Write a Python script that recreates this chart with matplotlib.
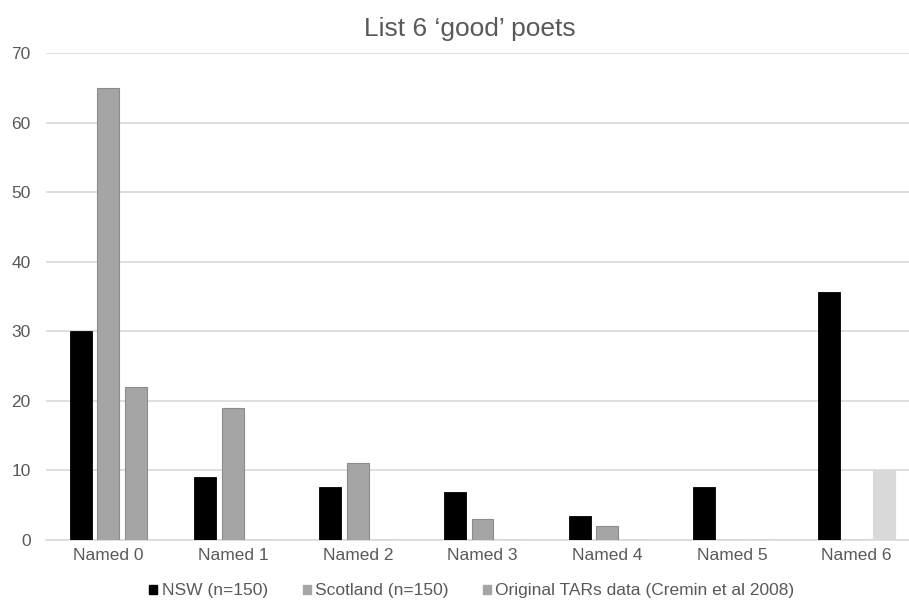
import matplotlib.pyplot as plt
import numpy as np

plt.rcParams['font.family'] = ['Liberation Sans', 'DejaVu Sans']

categories = ['Named 0', 'Named 1', 'Named 2', 'Named 3', 'Named 4', 'Named 5', 'Named 6']
nsw = [30, 9, 7.6, 6.9, 3.4, 7.6, 35.6]
scotland = [65, 19, 11, 3, 2, 0, 0]
tars = [22, 0, 0, 0, 0, 0, 10]
series_names = ['NSW (n=150)', 'Scotland (n=150)', 'Original TARs data (Cremin et al 2008)']

W, H = 909, 606
fig = plt.figure(figsize=(W / 100, H / 100), dpi=100)
# plot area in pixels: left 46, right 919 (chart is cropped at the right), top 53, bottom 540
ax = fig.add_axes([46 / W, (H - 540) / H, (919 - 46) / W, (540 - 53) / H])

x = np.arange(len(categories))
w = 0.176
step = 0.222
ax.bar(x - step, nsw, w, color='black', edgecolor='black', linewidth=0.6, zorder=3)
ax.bar(x, scotland, w, color='#a5a5a5', edgecolor='#8c8c8c', linewidth=0.8, zorder=3)
tar_colors = ['#a5a5a5'] * 6 + ['#d9d9d9']
tar_edges = ['#8c8c8c'] * 6 + ['#d9d9d9']
ax.bar(x + step, tars, w, color=tar_colors, edgecolor=tar_edges, linewidth=0.8, zorder=3)

ax.set_ylim(0, 70)
ax.set_xlim(-0.5, len(categories) - 0.5)
ax.set_yticks(range(0, 71, 10))
ax.set_xticks(x)
ax.set_xticklabels(categories)
ax.yaxis.grid(True, color='#d9d9d9', linewidth=1.2, zorder=0)
ax.tick_params(axis='both', length=0, labelsize=12.5, colors='#595959')
ax.tick_params(axis='y', pad=11)
ax.tick_params(axis='x', pad=6)
for s in ['top', 'right', 'left']:
    ax.spines[s].set_visible(False)
ax.spines['bottom'].set_color('#d9d9d9')
ax.spines['bottom'].set_linewidth(1.2)

fig.text(470 / W, (H - 36) / H, 'List 6 \u2018good\u2019 poets', fontsize=19,
         color='#595959', ha='center', va='baseline')

handles = [plt.Rectangle((0, 0), 1, 1, color=c) for c in ['black', '#a5a5a5', '#a5a5a5']]
fig.legend(handles, series_names, loc='center', bbox_to_anchor=(472 / W, (H - 591) / H),
           ncol=3, frameon=False, fontsize=12.5, handlelength=0.46, handleheight=0.46,
           handletextpad=0.25, columnspacing=2.0, labelcolor='#595959',
           borderpad=0, borderaxespad=0)

fig.savefig('out.png', dpi=100, facecolor='white')
